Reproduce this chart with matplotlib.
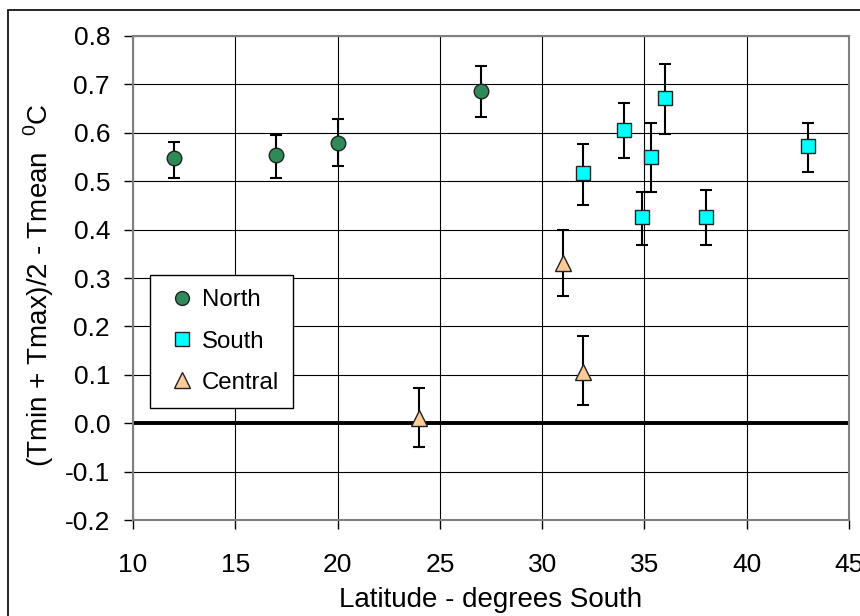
import matplotlib
matplotlib.use("Agg")
import matplotlib.pyplot as plt
from matplotlib.lines import Line2D
from matplotlib.patches import Rectangle
import numpy as np

plt.rcParams['font.family'] = ['Liberation Sans', 'DejaVu Sans']
plt.rcParams['mathtext.fontset'] = 'custom'
plt.rcParams['mathtext.rm'] = 'Liberation Sans'

# donnees
north_lat = [12, 17, 20, 27]
north_val = [0.547, 0.554, 0.579, 0.686]
north_hi = [0.582, 0.596, 0.628, 0.738]
north_lo = [0.507, 0.507, 0.531, 0.632]

south_lat = [32, 34, 35.3, 36, 34.9, 38, 43]
south_val = [0.516, 0.605, 0.551, 0.671, 0.426, 0.426, 0.572]
south_hi = [0.577, 0.662, 0.620, 0.743, 0.478, 0.481, 0.620]
south_lo = [0.451, 0.547, 0.477, 0.597, 0.368, 0.368, 0.519]

central_lat = [31, 32, 24]
central_val = [0.331, 0.106, 0.010]
central_hi = [0.399, 0.180, 0.073]
central_lo = [0.263, 0.038, -0.049]

x_ticks = [10, 15, 20, 25, 30, 35, 40, 45]
y_ticks = [-0.2, -0.1, 0.0, 0.1, 0.2, 0.3, 0.4, 0.5, 0.6, 0.7, 0.8]

series = [
    ("North", north_lat, north_val, north_hi, north_lo, 'o', '#2e8b57', 10.5),
    ("South", south_lat, south_val, south_hi, south_lo, 's', '#00ffff', 10.5),
    ("Central", central_lat, central_val, central_hi, central_lo, '^', '#ffcc99', 12),
]

fig = plt.figure(figsize=(8.6, 6.16), dpi=100)
ax = fig.add_axes([133/860, 1-520/616, (849-133)/860, (520-36)/616])

# cadre exterieur
fig.patches.append(Rectangle((8/860, -0.05), 1.2, 1-10/616+0.05, transform=fig.transFigure,
                             fill=False, edgecolor='black', linewidth=1.2))

ax.set_xlim(10, 45)
ax.set_ylim(-0.2, 0.8)
ax.set_xticks(x_ticks)
ax.set_yticks(y_ticks)
ax.set_yticklabels(["%.1f" % v for v in y_ticks])
ax.grid(True, color='black', linewidth=0.8)
ax.set_axisbelow(True)
ax.axhline(0, color='black', linewidth=2.8, zorder=1.5)
ax.tick_params(direction='out', length=6.5, width=1, labelsize=19)
ax.tick_params(axis='x', pad=17.5)
ax.tick_params(axis='y', pad=10)
for s in ax.spines.values():
    s.set_color('#808080')
    s.set_linewidth(1.5)

handles = []
for name, lat, val, hi, lo, mk, col, ms in series:
    lat = np.array(lat); val = np.array(val)
    err = [val - np.array(lo), np.array(hi) - val]
    ax.errorbar(lat, val, yerr=err, fmt='none', ecolor='black', elinewidth=1.5,
                capsize=4.5, capthick=1.5, zorder=3)
    ax.plot(lat, val, linestyle='none', marker=mk, markersize=ms, markerfacecolor=col,
            markeredgecolor='#222222', markeredgewidth=1, zorder=4)
    handles.append(Line2D([], [], linestyle='none', marker=mk, markersize=ms*0.95,
                          markerfacecolor=col, markeredgecolor='#222222', markeredgewidth=1,
                          label=name))

leg = ax.legend(handles=handles, loc='upper left', bbox_to_anchor=(17/716, (520-275)/484),
                borderaxespad=0, fontsize=17.3, frameon=True, fancybox=False,
                edgecolor='black', framealpha=1, handlelength=1.5, handletextpad=0.05,
                labelspacing=0.8, borderpad=0.6)
leg.get_frame().set_linewidth(1)

ax.set_xlabel("Latitude - degrees South", fontsize=20, labelpad=7)
ax.set_ylabel("(Tmin + Tmax)/2 - Tmean  $^{0}$C", fontsize=20)
ax.yaxis.set_label_coords(-0.1075, 0.485)

fig.savefig("out.png", dpi=100)
